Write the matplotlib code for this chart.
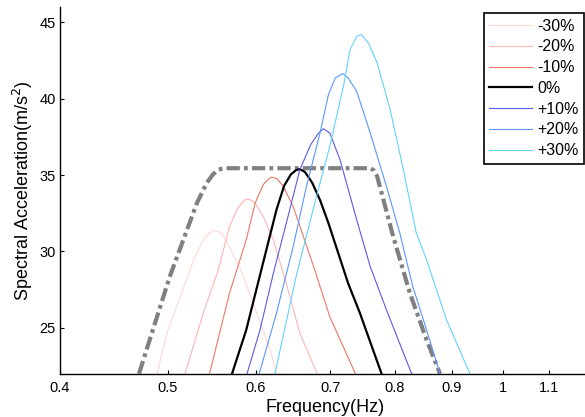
import matplotlib
matplotlib.use("Agg")
import matplotlib.pyplot as plt
from matplotlib.ticker import FixedLocator, NullLocator, FixedFormatter

plt.rcParams['font.family'] = ['Liberation Sans', 'DejaVu Sans']

labels = ['-30%', '-20%', '-10%', '0%', '+10%', '+20%', '+30%']
colors = ['#ffd7d7', '#ffb4b4', '#eb7864', '#000000', '#5a5ae6', '#5a96ff', '#64d2ff']

f_m30 = [0.489, 0.499, 0.513, 0.529, 0.538, 0.545, 0.549, 0.553, 0.559, 0.568, 0.583, 0.601, 0.618, 0.626]
v_m30 = [22.0, 24.65, 27.05, 29.67, 30.76, 31.2, 31.37, 31.33, 31.2, 30.32, 28.58, 25.96, 23.55, 22.0]

f_m20 = [0.518, 0.538, 0.555, 0.568, 0.578, 0.584, 0.588, 0.593, 0.599, 0.609, 0.622, 0.640, 0.657, 0.681]
v_m20 = [22.0, 25.96, 28.8, 31.63, 32.84, 33.25, 33.43, 33.38, 33.17, 32.29, 30.76, 27.7, 24.65, 22.0]

f_m10 = [0.545, 0.568, 0.588, 0.599, 0.609, 0.615, 0.620, 0.627, 0.635, 0.648, 0.676, 0.699, 0.737]
v_m10 = [22.0, 27.27, 30.76, 33.17, 34.37, 34.72, 34.87, 34.75, 34.25, 32.94, 29.01, 25.73, 22.0]

f_0 = [0.571, 0.588, 0.613, 0.626, 0.636, 0.645, 0.652, 0.657, 0.664, 0.674, 0.685, 0.697, 0.726, 0.744, 0.778]
v_0 = [22.0, 24.86, 30.1, 32.73, 34.3, 35.05, 35.33, 35.39, 35.2, 34.5, 33.37, 31.86, 27.92, 25.96, 22.0]

f_p10 = [0.589, 0.605, 0.622, 0.640, 0.657, 0.672, 0.683, 0.690, 0.699, 0.714, 0.739, 0.760, 0.786, 0.828]
v_p10 = [22.0, 24.86, 28.58, 32.07, 35.35, 37.0, 37.75, 38.03, 37.75, 36.0, 32.07, 29.01, 26.17, 22.0]

f_p20 = [0.604, 0.626, 0.648, 0.666, 0.685, 0.697, 0.707, 0.718, 0.726, 0.739, 0.760, 0.786, 0.808, 0.830, 0.854, 0.878]
v_p20 = [22.0, 25.96, 30.32, 34.25, 37.75, 40.26, 41.36, 41.64, 41.36, 40.48, 37.75, 34.25, 31.2, 27.7, 24.86, 22.0]

f_p30 = [0.624, 0.653, 0.680, 0.699, 0.719, 0.729, 0.739, 0.746, 0.757, 0.771, 0.792, 0.814, 0.836, 0.854, 0.890, 0.934]
v_p30 = [22.0, 28.58, 33.6, 36.88, 40.81, 43.21, 44.08, 44.2, 43.65, 42.34, 39.28, 35.35, 31.2, 29.45, 25.52, 22.0]

f_env = [0.471, 0.502, 0.531, 0.542, 0.549, 0.555, 0.561, 0.760, 0.766, 0.771, 0.797, 0.825, 0.854, 0.878]
v_env = [22.0, 28.36, 33.17, 34.5, 35.05, 35.35, 35.45, 35.45, 35.3, 34.91, 30.98, 27.27, 24.21, 22.0]

xticks = [0.4, 0.5, 0.6, 0.7, 0.8, 0.9, 1.0, 1.1]
xticklabels = ['0.4', '0.5', '0.6', '0.7', '0.8', '0.9', '1', '1.1']
yticks = [25, 30, 35, 40, 45]

series_f = [f_m30, f_m20, f_m10, f_0, f_p10, f_p20, f_p30]
series_v = [v_m30, v_m20, v_m10, v_0, v_p10, v_p20, v_p30]

fig = plt.figure(figsize=(5.85, 4.17), dpi=100)
ax = fig.add_axes([60/585, 1 - 373.7/417, 531/585, 366.7/417])

ax.plot(f_env, v_env, color='#808080', lw=3.0,
        linestyle=(0, (3.2, 1.0, 0.9, 1.0)), dash_capstyle='butt', zorder=1)

handles = []
for f, v, c, lab in zip(series_f, series_v, colors, labels):
    lw = 1.6 if lab == '0%' else 0.8
    h, = ax.plot(f, v, color=c, lw=lw, label=lab, zorder=2)
    handles.append(h)

ax.set_xscale('log')
ax.set_xlim(0.4, 1.2)
ax.set_ylim(22, 46)
ax.xaxis.set_major_locator(FixedLocator(xticks))
ax.xaxis.set_major_formatter(FixedFormatter(xticklabels))
ax.xaxis.set_minor_locator(NullLocator())
ax.set_yticks(yticks)
ax.yaxis.set_minor_locator(NullLocator())
ax.tick_params(direction='in', length=3, width=0.8, labelsize=10.5)
ax.tick_params(axis='x', pad=5)
ax.tick_params(axis='y', pad=3)
ax.spines['top'].set_visible(False)
ax.spines['right'].set_visible(False)
ax.spines['left'].set_linewidth(1.0)
ax.spines['bottom'].set_linewidth(1.0)

ax.set_xlabel('Frequency(Hz)', fontsize=13, labelpad=3)
ax.set_ylabel('Spectral Acceleration(m/s$^2$)', fontsize=13, labelpad=3)

leg = fig.legend(handles=handles, labels=labels, loc='upper right',
                 bbox_to_anchor=(584/585, 1 - 13/417), fontsize=11.5,
                 frameon=True, fancybox=False, shadow=False,
                 handlelength=2.7, handletextpad=0.3, borderpad=0.35,
                 labelspacing=0.36, borderaxespad=0)
leg.get_frame().set_edgecolor('black')
leg.get_frame().set_linewidth(1.2)
leg.get_frame().set_alpha(1)

fig.savefig('out.png', dpi=100)
